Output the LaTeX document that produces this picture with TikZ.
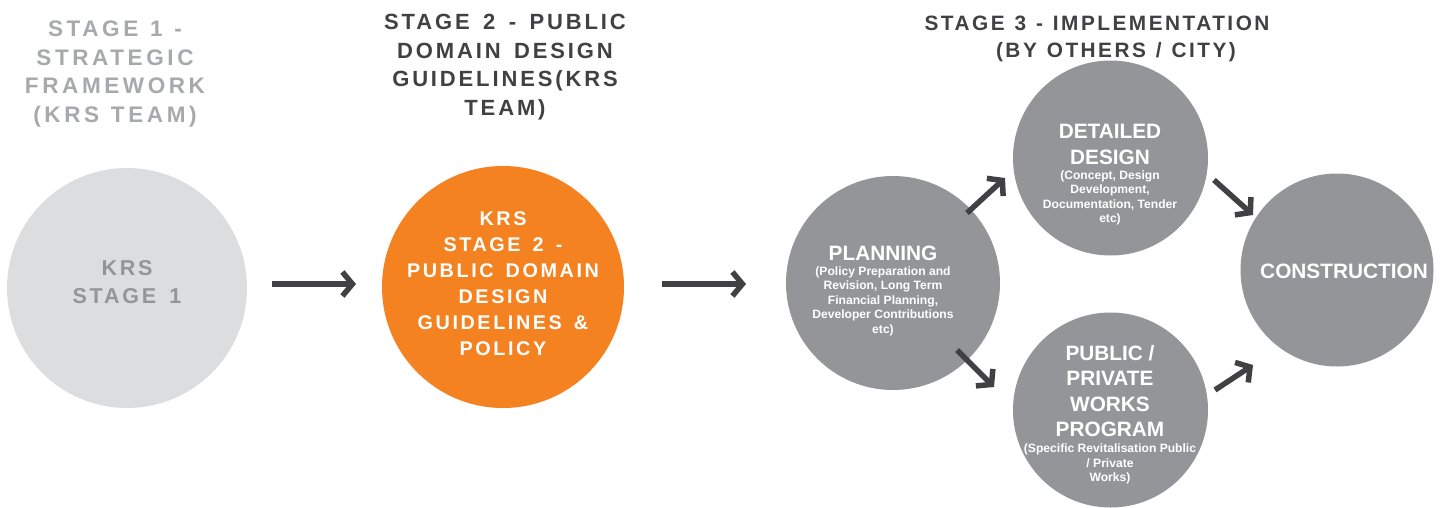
\documentclass[tikz,border=0pt]{standalone}
\usepackage{fontspec}
\setmainfont{Liberation Sans}
\newfontfamily\spc[LetterSpace=13,WordSpace=1.5]{Liberation Sans}
\newfontfamily\spcA[LetterSpace=16,WordSpace=1.2]{Liberation Sans}
\newfontfamily\spcC[LetterSpace=12,WordSpace=1.2]{Liberation Sans}
\usetikzlibrary{arrows.meta}
\definecolor{lgray}{HTML}{DCDDDE}
\definecolor{hgray}{HTML}{A7A9AC}
\definecolor{tgray}{HTML}{939598}
\definecolor{dgray}{HTML}{414042}
\definecolor{orng}{HTML}{F58220}
\definecolor{cgray}{HTML}{939598}
\begin{document}
\begin{tikzpicture}[x=1pt,y=-1pt,
  disc/.style={circle,inner sep=0pt,minimum size=#1},
  hdr/.style={align=center,inner sep=0pt,font=\spc\bfseries\fontsize{22}{28.5}\selectfont},
  intxt/.style={align=center,inner sep=0pt,text=white,font=\spc\bfseries\fontsize{19.8}{26}\selectfont},
  big/.style={align=center,inner sep=0pt,text=white,font=\bfseries\fontsize{20.8}{25.5}\selectfont},
  sml/.style={align=center,inner sep=0pt,text=white,font=\bfseries\fontsize{12.1}{14.5}\selectfont},
  arr/.style={draw=dgray,line width=5.5pt,-{Straight Barb[length=10pt,width=24pt]}}]
\useasboundingbox (0,0) rectangle (1444,507);

% headers
\node[hdr,text=hgray,font=\spcA\bfseries\fontsize{22.5}{28.5}\selectfont] (h1) at (115,74) {STAGE 1 -\\STRATEGIC\\FRAMEWORK\\(KRS TEAM)};
\node[hdr,text=dgray] (h2) at (505,67) {STAGE 2 - PUBLIC\\DOMAIN DESIGN\\GUIDELINES(KRS\\TEAM)};
\node[hdr,text=dgray,font=\spcC\bfseries\fontsize{20.8}{28.5}\selectfont] (h3a) at (1097,23) {STAGE 3 - IMPLEMENTATION};
\node[hdr,text=dgray,font=\spcC\bfseries\fontsize{20.8}{28.5}\selectfont] (h3b) at (1116,52) {(BY OTHERS / CITY)};

% circles
\node[disc=240pt,fill=lgray] (s1) at (127,288) {};
\node[disc=242pt,fill=orng] (s2) at (503,287) {};
\node[disc=214pt,fill=cgray] (plan) at (893,283) {};
\node[disc=195pt,fill=cgray] (det) at (1110.5,158) {};
\node[disc=195pt,fill=cgray] (pub) at (1110.5,410) {};
\node[disc=193pt,fill=cgray] (con) at (1337,270) {};

% circle texts
\node[intxt,text=tgray,font=\spc\bfseries\fontsize{21.5}{28}\selectfont] (t1) at (127,282) {KRS\\STAGE 1};
\node[intxt] (t2) at (503,284) {KRS\\STAGE 2 -\\PUBLIC DOMAIN\\DESIGN\\GUIDELINES \&\\POLICY};
\node[big] (tp) at (883,253) {PLANNING};
\node[sml] (tps) at (883,301) {(Policy Preparation and\\Revision, Long Term\\Financial Planning,\\Developer Contributions\\etc)};
\node[big] (td) at (1110,144.5) {DETAILED\\DESIGN};
\node[sml] (tds) at (1110,198) {(Concept, Design\\Development,\\Documentation, Tender\\etc)};
\node[big] (tpub) at (1110,391) {PUBLIC /\\PRIVATE\\WORKS\\PROGRAM};
\node[sml] (tpubs) at (1110,464) {(Specific Revitalisation Public\\/ Private\\Works)};
\node[big] (tc) at (1344,271) {CONSTRUCTION};

% arrow end points
\coordinate (a1s) at (272,284);
\coordinate (a1e) at (356,284);
\coordinate (a2s) at (662,284);
\coordinate (a2e) at (746,284);
\coordinate (a3s) at (967,213);
\coordinate (a3e) at (1005,178);
\coordinate (a4s) at (957,350);
\coordinate (a4e) at (994,387);
\coordinate (a5s) at (1214,180);
\coordinate (a5e) at (1253,215);
\coordinate (a6s) at (1215,390);
\coordinate (a6e) at (1253,365);

\draw[arr] (a1s) -- (a1e);
\draw[arr] (a2s) -- (a2e);
\draw[arr] (a3s) -- (a3e);
\draw[arr] (a4s) -- (a4e);
\draw[arr] (a5s) -- (a5e);
\draw[arr] (a6s) -- (a6e);
\end{tikzpicture}
\end{document}
